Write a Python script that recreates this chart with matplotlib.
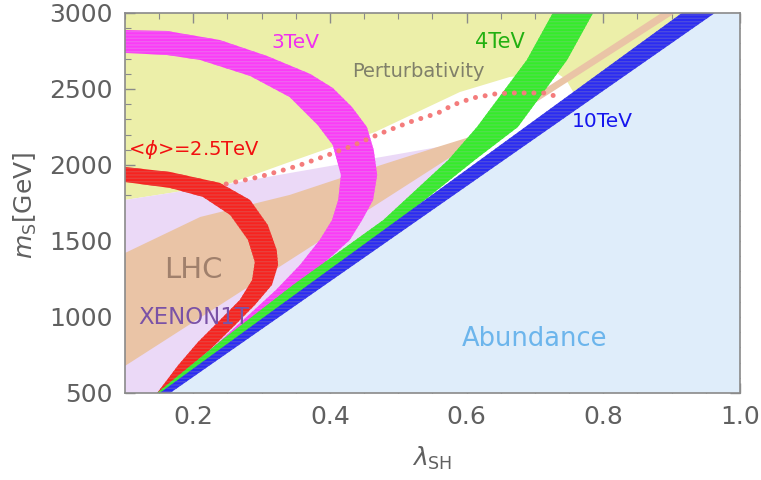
import numpy as np
import matplotlib
matplotlib.use("Agg")
import matplotlib.pyplot as plt

plt.rcParams['font.family'] = ['DejaVu Sans']
plt.rcParams['hatch.linewidth'] = 1.0

## region boundaries (lambda_SH, m_S [GeV])
pert_x = [0.100, 0.100, 0.251, 0.341, 0.466, 0.590, 0.663, 0.732, 0.745, 0.756, 0.927]
pert_y = [3000, 1770, 1875, 2020, 2217, 2480, 2579, 2605, 2565, 2480, 3000]

xenon_x = [0.100, 0.100, 0.251, 0.341, 0.576, 0.671, 0.148]
xenon_y = [500, 1770, 1875, 1947, 2132, 2243, 500]

lhc_x = [0.100, 0.210, 0.341, 0.429, 0.557, 0.605, 0.781, 0.885, 0.905, 0.100]
lhc_y = [1421, 1658, 1803, 1934, 2118, 2185, 2695, 3000, 3000, 678]

abund_x = [0.159, 0.939, 1.0, 1.0]
abund_y = [500, 3000, 3000, 500]

## <phi> bands: outer / inner edges
red_out_x = [0.100, 0.166, 0.239, 0.283, 0.309, 0.322, 0.324, 0.315, 0.290, 0.261, 0.224, 0.188, 0.153]
red_out_y = [1987, 1954, 1882, 1770, 1605, 1441, 1342, 1211, 1079, 947, 783, 638, 500]
red_in_x = [0.100, 0.166, 0.214, 0.254, 0.280, 0.290, 0.286, 0.268, 0.239, 0.207, 0.178, 0.147]
red_in_y = [1888, 1849, 1790, 1671, 1507, 1362, 1243, 1112, 980, 836, 684, 500]

mag_out_x = [0.100, 0.161, 0.239, 0.308, 0.371, 0.404, 0.432, 0.454, 0.464, 0.469, 0.463,
             0.447, 0.429, 0.388, 0.346, 0.290, 0.246, 0.198, 0.156]
mag_out_y = [2888, 2882, 2822, 2717, 2599, 2507, 2382, 2250, 2099, 1934, 1770,
             1638, 1507, 1342, 1178, 980, 816, 651, 500]
mag_in_x = [0.100, 0.161, 0.210, 0.283, 0.341, 0.382, 0.404, 0.416, 0.412, 0.403,
            0.385, 0.356, 0.321, 0.273, 0.233, 0.189, 0.148]
mag_in_y = [2737, 2724, 2691, 2586, 2447, 2263, 2132, 1934, 1770, 1638,
            1507, 1342, 1178, 980, 816, 651, 500]

grn_l_x = [0.726, 0.688, 0.615, 0.573, 0.478, 0.346, 0.242, 0.147]
grn_l_y = [3000, 2691, 2250, 2033, 1638, 1211, 849, 500]
grn_r_x = [0.785, 0.747, 0.675, 0.612, 0.502, 0.371, 0.259, 0.156]
grn_r_y = [3000, 2691, 2250, 2033, 1638, 1211, 849, 500]

blu_l_x = [0.151, 0.915]
blu_l_y = [500, 3000]
blu_r_x = [0.166, 0.963]
blu_r_y = [500, 3000]

## dotted line
dot_x = [0.248, 0.296, 0.352, 0.393, 0.432, 0.476, 0.517, 0.558, 0.580, 0.609,
         0.641, 0.663, 0.715, 0.729, 0.738]
dot_y = [1875, 1921, 1993, 2059, 2125, 2211, 2283, 2342, 2395, 2441,
         2467, 2474, 2474, 2454, 2447]


def band(ax, xa, ya, xb, yb, color, stripe, z):
    xs = np.concatenate([xa, xb[::-1]])
    ys = np.concatenate([ya, yb[::-1]])
    ax.fill(xs, ys, facecolor=color, edgecolor=stripe, hatch='-----',
            linewidth=0, zorder=z)


fig = plt.figure(figsize=(7.61, 4.80), dpi=100)
ax = fig.add_axes([125/761, 1-393/480, 615/761, 380/480])

ax.fill(pert_x, pert_y, color='#ecefa9', lw=0, zorder=1)
ax.fill(xenon_x, xenon_y, color='#ebd9f7', lw=0, zorder=2)
ax.fill(lhc_x, lhc_y, color='#eac4a6', lw=0, zorder=3)
ax.fill(abund_x, abund_y, color='#dfedfa', lw=0, zorder=4)

band(ax, red_out_x, red_out_y, red_in_x, red_in_y, '#f7231f', '#e8403c', 5)
band(ax, mag_out_x, mag_out_y, mag_in_x, mag_in_y, '#fb3cf7', '#f060f0', 6)
band(ax, grn_l_x, grn_l_y, grn_r_x, grn_r_y, '#35ec2a', '#50e04a', 7)
band(ax, blu_l_x, blu_l_y, blu_r_x, blu_r_y, '#2b2bf2', '#4a4ae0', 8)

ax.plot(dot_x, dot_y, color='#f47c7c', lw=3.6, linestyle=(0, (0.01, 1.95)),
        dash_capstyle='round', zorder=9)

## labels in the plot
ax.text(0.349, 2809, '3TeV', color='#f030f0', fontsize=14.5, ha='center', va='center', zorder=10)
ax.text(0.649, 2809, '4TeV', color='#22b011', fontsize=15, ha='center', va='center', zorder=10)
ax.text(0.530, 2618, 'Perturbativity', color='#80806a', fontsize=14, ha='center', va='center', zorder=10)
ax.text(0.798, 2283, '10TeV', color='#1515ee', fontsize=14.5, ha='center', va='center', zorder=10)
ax.text(0.104, 2099, r'<$\phi$>=2.5TeV', color='#f21010', fontsize=14, ha='left', va='center', zorder=10)
ax.text(0.200, 1309, 'LHC', color='#a0806c', fontsize=21, ha='center', va='center', zorder=10)
ax.text(0.200, 1000, 'XENON1T', color='#7a52a6', fontsize=16.5, ha='center', va='center', zorder=10)
ax.text(0.700, 855, 'Abundance', color='#6cb5ec', fontsize=18.5, ha='center', va='center', zorder=10)

ax.set_xlim(0.1, 1.0)
ax.set_ylim(500, 3000)
ax.set_xticks([0.2, 0.4, 0.6, 0.8, 1.0])
ax.set_xticklabels(['0.2', '0.4', '0.6', '0.8', '1.0'])
ax.set_xticks(np.arange(0.1, 1.0001, 0.05), minor=True)
ax.set_yticks([500, 1000, 1500, 2000, 2500, 3000])
ax.set_yticks(np.arange(500, 3001, 100), minor=True)

gray = '#8a8a8a'
for s in ax.spines.values():
    s.set_color(gray)
    s.set_linewidth(1.2)
    s.set_zorder(11)
ax.tick_params(which='both', direction='in', top=True, right=True, color=gray,
               labelcolor='#606060', labelsize=18)
ax.tick_params(which='major', length=7, width=1, pad=9)
ax.tick_params(which='minor', length=4, width=0.8)

ax.set_xlabel(r'$\lambda_{\mathrm{SH}}$', fontsize=18, color='#606060')
ax.set_ylabel(r'$m_{\mathrm{S}}$[GeV]', fontsize=18, color='#606060')
ax.xaxis.set_label_coords(0.5, -0.135)
ax.yaxis.set_label_coords(-0.14, 0.495)

fig.savefig('out.png', dpi=100)
